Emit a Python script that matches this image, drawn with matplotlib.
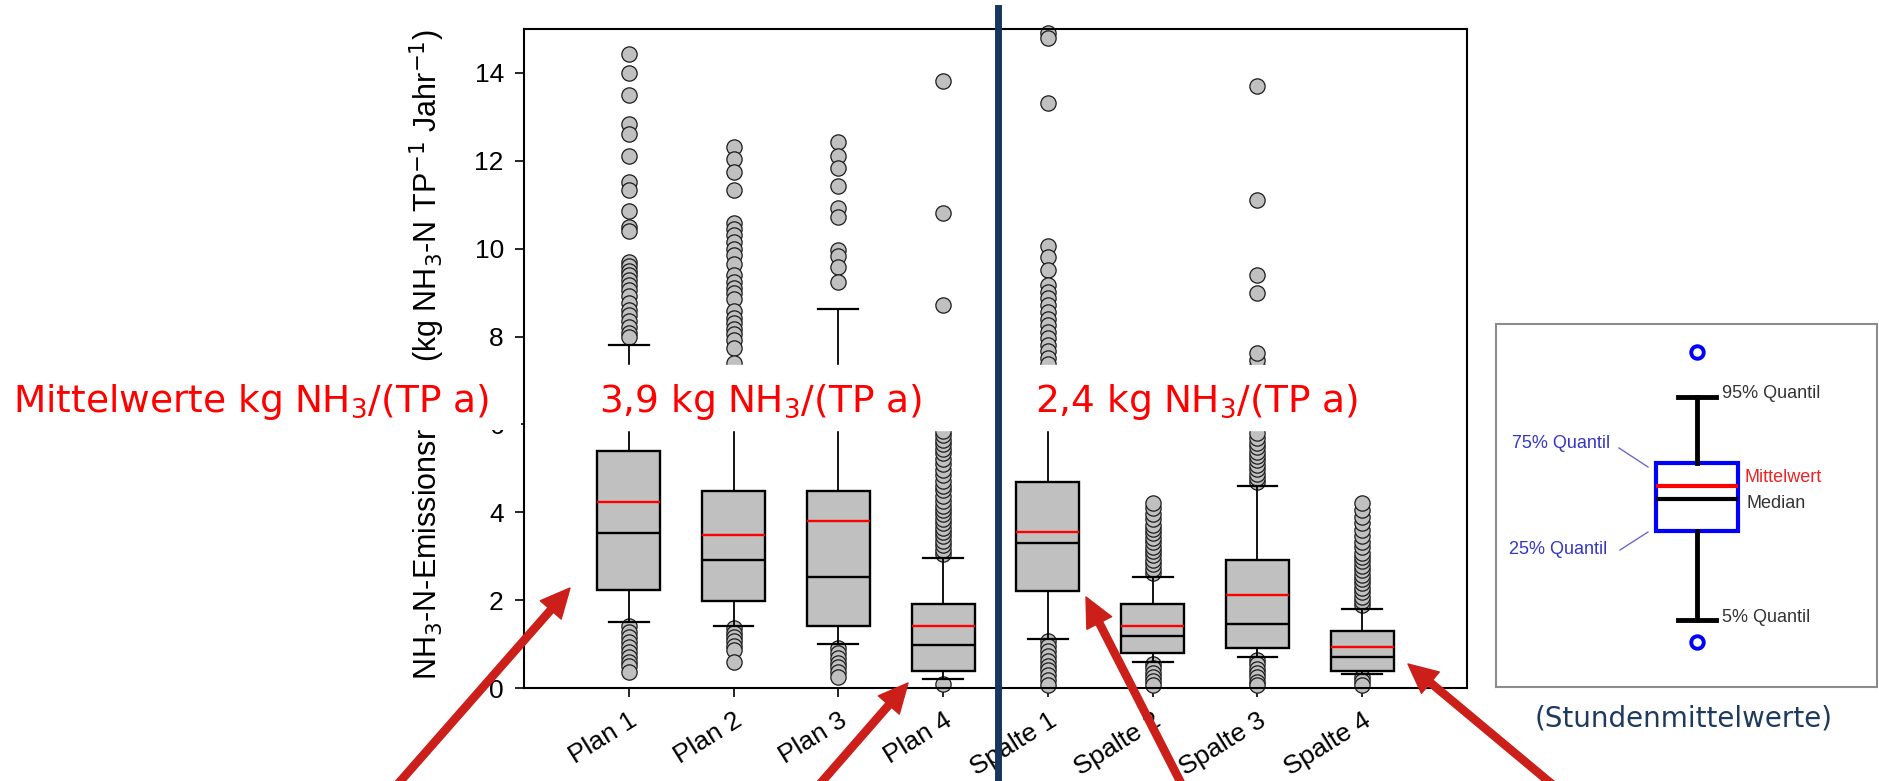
import matplotlib
matplotlib.use('Agg')
import matplotlib.pyplot as plt
from matplotlib.patches import FancyArrowPatch, Rectangle, ArrowStyle
from matplotlib.lines import Line2D
import matplotlib.transforms as mtransforms

plt.rcParams['font.family'] = ['Liberation Sans', 'DejaVu Sans']

# --- data ---
categories = ['Plan 1', 'Plan 2', 'Plan 3', 'Plan 4',
              'Spalte 1', 'Spalte 2', 'Spalte 3', 'Spalte 4']
whislo = [1.51, 1.40, 1.00, 0.20, 1.11, 0.60, 0.71, 0.31]
q1 = [2.22, 1.99, 1.40, 0.39, 2.20, 0.80, 0.91, 0.39]
med = [3.52, 2.92, 2.52, 0.99, 3.31, 1.19, 1.46, 0.70]
mean = [4.23, 3.48, 3.80, 1.40, 3.56, 1.42, 2.12, 0.93]
q3 = [5.40, 4.49, 4.49, 1.92, 4.70, 1.92, 2.92, 1.30]
whishi = [7.80, 7.10, 8.62, 2.97, 7.00, 2.52, 4.60, 1.79]

fliers_plan1 = [14.42, 14.0, 13.49, 12.83, 12.62, 12.12, 11.52, 11.33, 10.85, 10.5,
                10.4, 9.7, 9.6, 9.5, 9.4, 9.28, 9.17, 9.06, 8.92, 8.76, 8.6, 8.48,
                8.36, 8.22, 8.08, 7.98,
                1.40, 1.28, 1.17, 1.05, 0.94, 0.83, 0.71, 0.60, 0.49, 0.37]
fliers_plan2 = [12.32, 12.03, 11.74, 11.33, 10.58, 10.44, 10.3, 10.15, 10.0, 9.85,
                9.65, 9.4, 9.25, 9.1, 8.98, 8.86, 8.58, 8.43, 8.3, 8.18, 8.06, 7.92,
                7.74, 7.4,
                1.36, 1.26, 1.16, 1.06, 0.96, 0.86, 0.60]
fliers_plan3 = [12.42, 12.12, 11.83, 11.43, 10.93, 10.72, 9.96, 9.84, 9.58, 9.24,
                0.92, 0.80, 0.69, 0.58, 0.47, 0.36, 0.25]
fliers_plan4 = [13.82, 10.82, 8.72,
                3.05, 3.15, 3.25, 3.35, 3.45, 3.55, 3.65, 3.75, 3.85, 3.95, 4.05,
                4.15, 4.25, 4.38, 4.5, 4.6, 4.72, 4.85, 4.97, 5.1, 5.22, 5.35, 5.45,
                5.55, 5.65, 5.75, 5.85,
                0.09]
fliers_spalte1 = [14.9, 14.8, 13.31, 10.05, 9.82, 9.51, 9.17, 9.02, 8.87, 8.72, 8.56,
                  8.41, 8.26, 8.11, 7.96, 7.81, 7.66, 7.51, 7.38,
                  1.06, 0.95, 0.84, 0.73, 0.62, 0.51, 0.40, 0.29, 0.18, 0.07]
fliers_spalte2 = [2.62, 2.72, 2.82, 2.92, 3.02, 3.12, 3.22, 3.32, 3.42, 3.52, 3.62,
                  3.72, 3.84, 3.96, 4.1, 4.22,
                  0.55, 0.45, 0.35, 0.25, 0.15, 0.06]
fliers_spalte3 = [4.68, 4.78, 4.88, 4.98, 5.08, 5.18, 5.28, 5.38, 5.48, 5.58, 5.68,
                  5.8, 7.33, 7.47, 7.62, 9.0, 9.4, 11.11, 13.70,
                  0.64, 0.54, 0.44, 0.34, 0.24, 0.14, 0.06]
fliers_spalte4 = [1.88, 1.98, 2.08, 2.18, 2.28, 2.38, 2.48, 2.58, 2.68, 2.78, 2.88,
                  2.98, 3.08, 3.2, 3.32, 3.45, 3.6, 3.75, 3.9, 4.05, 4.2,
                  0.24, 0.15, 0.07]
fliers = [fliers_plan1, fliers_plan2, fliers_plan3, fliers_plan4,
          fliers_spalte1, fliers_spalte2, fliers_spalte3, fliers_spalte4]

group_means = ['3,9', '2,4']

# schematic box for the key panel (in panel pixel units)
key_stats = dict(whislo=620, q1=531, med=499, mean=486, q3=463, whishi=397,
                 fliers=[352, 642])

W, H = 1879, 781
fig = plt.figure(figsize=(W / 100, H / 100), dpi=100)


def fx(px):
    return px / W


def fy(py):
    return 1 - py / H


ax = fig.add_axes([fx(524), fy(688), fx(1467) - fx(524), fy(29) - fy(688)])

stats = []
for i in range(len(categories)):
    stats.append(dict(whislo=whislo[i], q1=q1[i], med=med[i], mean=mean[i],
                      q3=q3[i], whishi=whishi[i], fliers=fliers[i]))

positions = list(range(1, len(categories) + 1))
bp = ax.bxp(stats, positions=positions, widths=0.6, capwidths=0.38,
            patch_artist=True, showmeans=True, meanline=True,
            boxprops=dict(facecolor='#c0c0c0', edgecolor='black', linewidth=1.7),
            medianprops=dict(color='black', linewidth=1.7),
            meanprops=dict(color='#ff0000', linewidth=1.7, linestyle='-'),
            whiskerprops=dict(color='black', linewidth=1.3),
            capprops=dict(color='black', linewidth=1.6),
            flierprops=dict(marker='o', markerfacecolor='#c0c0c0',
                            markeredgecolor='#1a1a1a', markersize=11,
                            markeredgewidth=0.9, zorder=1.8))
for f in bp['fliers']:
    f.set_clip_on(False)

ax.set_xlim(0, 9)
ax.set_ylim(0, 15)
ax.set_yticks(range(0, 15, 2))
ax.set_xticks(positions)
ax.set_xticklabels(categories, rotation=32, ha='right', rotation_mode='anchor',
                   fontsize=19)
offset = mtransforms.ScaledTranslation(0.06, 0, fig.dpi_scale_trans)
for lab in ax.get_xticklabels():
    lab.set_transform(lab.get_transform() + offset)
ax.tick_params(axis='both', direction='out', length=6.5, width=1.2, labelsize=19)
ax.tick_params(axis='x', pad=8)
ax.tick_params(axis='y', pad=8)
for sp in ax.spines.values():
    sp.set_linewidth(1.5)

ax.set_ylabel(r'NH$_3$-N-Emissionsraten (kg NH$_3$-N TP$^{-1}$ Jahr$^{-1}$)',
              fontsize=22)
ax.yaxis.set_label_coords(-0.082, 0.506)

# white band with the mean values
ax.axhspan(5.87, 7.35, color='white', zorder=2.3)
fig.add_artist(Rectangle((0, fy(430)), fx(521), fy(365) - fy(430),
                         transform=fig.transFigure, facecolor='white',
                         edgecolor='none', zorder=3))

red_font = dict(family=['DejaVu Sans'], fontsize=27, color='#ff0000', va='baseline',
                zorder=5)
fig.text(fx(13), fy(412), r'Mittelwerte kg NH$_3$/(TP a)', **red_font)
fig.text(fx(599), fy(412), group_means[0] + r' kg NH$_3$/(TP a)', **red_font)
fig.text(fx(1035), fy(412), group_means[1] + r' kg NH$_3$/(TP a)', **red_font)

# dark blue separator
fig.add_artist(Line2D([fx(998), fx(998)], [fy(8), fy(781)], transform=fig.transFigure,
                      color='#17375e', linewidth=5, zorder=6))

# red arrows
arrow_style = ArrowStyle.Simple(head_length=1.05, head_width=1.0, tail_width=0.26)
arrows = [((397, 785), (570, 588)), ((819, 785), (908, 683)),
          ((1182, 785), (1086, 597)), ((1553, 785), (1408, 664))]
for (x0, y0), (x1, y1) in arrows:
    fig.add_artist(FancyArrowPatch((fx(x0), fy(y0)), (fx(x1), fy(y1)),
                                   transform=fig.transFigure, arrowstyle=arrow_style,
                                   mutation_scale=20, color='#cc1f1a',
                                   shrinkA=0, shrinkB=0, zorder=7))

# key panel
kx0, kx1, ky0, ky1 = 1496, 1877, 324, 687
kax = fig.add_axes([fx(kx0), fy(ky1), fx(kx1) - fx(kx0), fy(ky0) - fy(ky1)])
kax.bxp([key_stats], positions=[1697], widths=82, capwidths=38,
        patch_artist=True, showmeans=True, meanline=True,
        boxprops=dict(facecolor='white', edgecolor='#0000ff', linewidth=3),
        medianprops=dict(color='black', linewidth=3),
        meanprops=dict(color='#ff0000', linewidth=3, linestyle='-'),
        whiskerprops=dict(color='black', linewidth=3.5),
        capprops=dict(color='black', linewidth=3.5),
        flierprops=dict(marker='o', markerfacecolor='white', markeredgecolor='#0000ff',
                        markersize=9, markeredgewidth=2.8))
kax.set_xlim(kx0, kx1)
kax.set_ylim(ky1, ky0)
kax.set_xticks([])
kax.set_yticks([])
for sp in kax.spines.values():
    sp.set_color('#8c8c8c')
    sp.set_linewidth(1.5)
kfont = dict(fontsize=13, va='center')
kax.text(1722, 393, '95% Quantil', color='#333333', **kfont)
kax.text(1722, 617, '5% Quantil', color='#333333', **kfont)
kax.text(1745, 477, 'Mittelwert', color='#ee2222', **kfont)
kax.text(1747, 503, 'Median', color='#333333', **kfont)
kax.text(1610, 443, '75% Quantil', color='#3535c8', ha='right', **kfont)
kax.text(1607, 549, '25% Quantil', color='#3535c8', ha='right', **kfont)
kax.plot([1619, 1648], [448, 467], color='#6a6acc', linewidth=1)
kax.plot([1620, 1648], [550, 532], color='#6a6acc', linewidth=1)

fig.text(fx(1684), fy(719), '(Stundenmittelwerte)', family=['DejaVu Sans'],
         fontsize=20, color='#1f3a5f', ha='center', va='center')

fig.savefig('out.png', dpi=100)
